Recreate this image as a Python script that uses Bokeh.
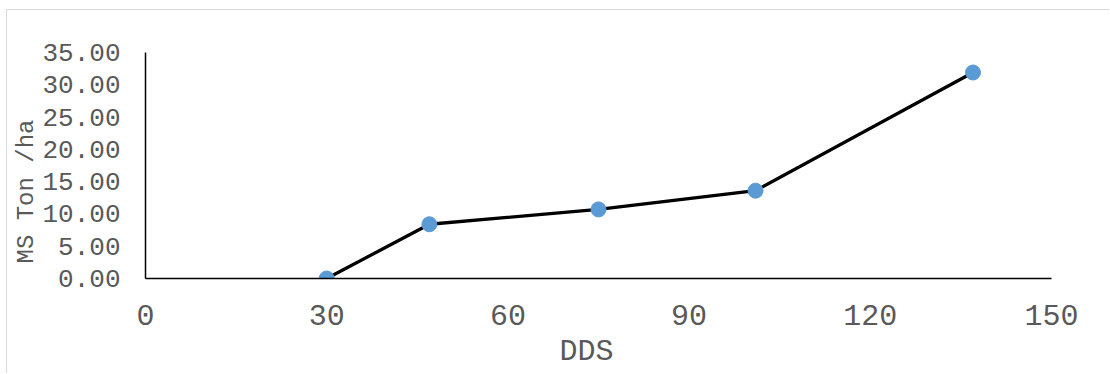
from bokeh.plotting import figure
from bokeh.models import Range1d, FixedTicker, NumeralTickFormatter, Title
from bokeh.embed import file_html
from bokeh.resources import INLINE

# Data
dds = [30, 47, 75, 101, 137]
ms_ton_ha = [0.0, 8.4, 10.7, 13.6, 31.9]
x_ticks = [0, 30, 60, 90, 120, 150]
y_ticks = [0, 5, 10, 15, 20, 25, 30, 35]
x_title = "DDS"
y_title = "MS Ton /ha"

FONT = "Liberation Mono"
GRAY = "#595959"

# page offset of the light chart-area border
OX, OY = 6, 9

p = figure(width=1110 - OX - 1, height=374 - OY - 1, output_backend="svg", toolbar_location=None,
           x_range=Range1d(0, 150), y_range=Range1d(0, 35),
           min_border_left=145 - OX - 1, min_border_right=59, min_border_top=52 - OY - 1,
           min_border_bottom=96 - 1)
p.styles = {"margin-left": f"{OX}px", "margin-top": f"{OY}px",
            "border-left": "1px solid #d9d9d9", "border-top": "1px solid #d9d9d9"}
p.outline_line_color = None
p.xgrid.grid_line_color = None
p.ygrid.grid_line_color = None
p.background_fill_color = "white"
p.border_fill_color = "white"

p.xaxis.ticker = FixedTicker(ticks=x_ticks)
p.yaxis.ticker = FixedTicker(ticks=y_ticks)
p.yaxis.formatter = NumeralTickFormatter(format="0.00")

for ax in (p.xaxis, p.yaxis):
    ax.axis_line_color = "black"
    ax.axis_line_width = 1.5
    ax.major_tick_line_color = None
    ax.minor_tick_line_color = None
    ax.major_label_text_font = FONT
    ax.major_label_text_color = GRAY

p.xaxis.major_label_text_font_size = "30px"
p.xaxis.major_label_standoff = 20
p.yaxis.major_label_text_font_size = "26px"
p.yaxis.major_label_standoff = 19

p.add_layout(Title(text=y_title, align="left", offset=15, text_font=FONT,
                   text_font_size="24px", text_font_style="normal",
                   text_color=GRAY, standoff=0), "left")
p.add_layout(Title(text=x_title, align="left", offset=414, text_font=FONT,
                   text_font_size="30px", text_font_style="normal",
                   text_color=GRAY, standoff=11), "below")

p.line(dds, ms_ton_ha, line_color="black", line_width=3.3)
p.scatter(dds, ms_ton_ha, size=15, fill_color="#5b9bd5", line_color="#5b9bd5")

open("out.html", "w").write(file_html(p, INLINE))
